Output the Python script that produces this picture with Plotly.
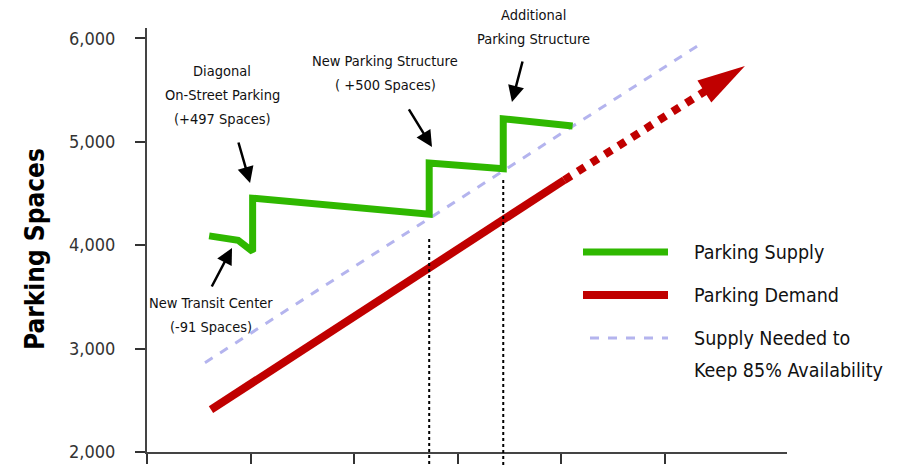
import math
import plotly.graph_objects as go

# ---------------- data ----------------
supply_x = [0.60, 0.88, 1.02, 1.02, 2.725, 2.725, 3.44, 3.44, 4.11]
supply_y = [4090, 4048, 3938, 4454, 4300, 4795, 4740, 5222, 5152]

demand_x = [0.618, 4.03]
demand_y = [2410, 4630]

projection_x = [4.03, 5.774]     # dotted projection, ending at arrow tip
projection_y = [4630, 5733]

needed_x = [0.56, 5.36]
needed_y = [2864, 5955]

marker_x = [2.725, 3.44]          # dotted reference lines under supply steps
marker_top = [4060, 4630]

y_ticks = [2000, 3000, 4000, 5000, 6000]
x_ticks = [0, 1, 2, 3, 4, 5]

event_lines = [
    ["Diagonal", "On-Street Parking", "(+497 Spaces)"],
    ["New Transit Center", "(-91 Spaces)"],
    ["New Parking Structure", "( +500 Spaces)"],
    ["Additional", "Parking Structure"],
]
event_tip = [(0.995, 4601), (0.821, 3973), (2.752, 4949), (3.524, 5385)]
event_tail = [(0.879, 5007), (0.618, 3586), (2.520, 5327), (3.630, 5791)]

legend_labels = ["Parking Supply", "Parking Demand", "Supply Needed to", "Keep 85% Availability"]

# ---------------- styles / placement ----------------
GREEN = "#2fb800"
RED = "#c00000"
LAV = "#b4b4ee"
FONT = "DejaVu Sans Condensed, Liberation Sans Narrow, sans-serif"

W, H = 900, 465
ML, MR, MT, MB = 147, 113, 28, 13
XR = [0, 6.18]
YR = [2000, 6100]
pxx = (W - ML - MR) / (XR[1] - XR[0])
pxy = (H - MT - MB) / (YR[1] - YR[0])

event_text_px = [(222, 95), (211, 314.5), (385, 72.5), (533, 27)]
EVENT_LINE_GAP = 24


def px2paper_x(p):
    return (p - ML) / (W - ML - MR)


def px2paper_y(p):
    return (H - MB - p) / (H - MT - MB)


fig = go.Figure()

fig.add_trace(go.Scatter(x=needed_x, y=needed_y, mode="lines",
                         line=dict(color=LAV, width=3, dash="dash"), hoverinfo="skip"))
fig.add_trace(go.Scatter(x=demand_x, y=demand_y, mode="lines",
                         line=dict(color=RED, width=8), hoverinfo="skip"))

# arrow head geometry for projection (computed in pixel space)
tx, ty = projection_x[-1], projection_y[-1]
sx, sy = projection_x[0], projection_y[0]
dxp = (tx - sx) * pxx
dyp = (ty - sy) * pxy
L = math.hypot(dxp, dyp)
ux, uy = dxp / L, dyp / L
head_len, head_half = 48, 13
bx, by = tx - ux * head_len / pxx, ty - uy * head_len / pxy
c1 = (bx - uy * head_half / pxx, by + ux * head_half / pxy)
c2 = (bx + uy * head_half / pxx, by - ux * head_half / pxy)

fig.add_trace(go.Scatter(x=[sx, bx + ux * 2 / pxx], y=[sy, by + uy * 2 / pxy], mode="lines",
                         line=dict(color=RED, width=8, dash="dot"), hoverinfo="skip"))
fig.add_trace(go.Scatter(x=[tx, c1[0], c2[0], tx], y=[ty, c1[1], c2[1], ty], mode="lines",
                         fill="toself", fillcolor=RED, line=dict(width=0, color=RED), hoverinfo="skip"))

fig.add_trace(go.Scatter(x=supply_x, y=supply_y, mode="lines",
                         line=dict(color=GREEN, width=7), hoverinfo="skip"))

shapes = []
for mx, mt in zip(marker_x, marker_top):
    shapes.append(dict(type="line", xref="x", yref="paper", x0=mx, x1=mx,
                       y0=(mt - YR[0]) / (YR[1] - YR[0]), y1=-0.04,
                       line=dict(color="black", width=2, dash="dot"), layer="above"))

# manual legend
legend_marks = [
    (GREEN, "solid", 7, 583, 252),
    (RED, "solid", 8, 583, 295),
    (LAV, "dash", 3, 590, 338),
]
annotations = []
for col, dash, wd, x0, yy in legend_marks:
    shapes.append(dict(type="line", xref="paper", yref="paper",
                       x0=px2paper_x(x0), x1=px2paper_x(668),
                       y0=px2paper_y(yy), y1=px2paper_y(yy),
                       line=dict(color=col, width=wd, dash=dash)))
for text, yy in zip(legend_labels, [252, 295, 338, 370]):
    annotations.append(dict(xref="paper", yref="paper", x=px2paper_x(692), y=px2paper_y(yy),
                            text=text, showarrow=False, xanchor="left", yanchor="middle",
                            font=dict(family=FONT, size=19.5, color="#111")))

for lines, tip, tail, (cx, cy) in zip(event_lines, event_tip, event_tail, event_text_px):
    annotations.append(dict(x=tip[0], y=tip[1], ax=tail[0], ay=tail[1],
                            axref="x", ayref="y", xref="x", yref="y", text="", showarrow=True,
                            arrowhead=2, arrowsize=1.3, arrowwidth=2.5, arrowcolor="black"))
    n = len(lines)
    for i, t in enumerate(lines):
        ly = cy + (i - (n - 1) / 2) * EVENT_LINE_GAP
        annotations.append(dict(x=px2paper_x(cx), y=px2paper_y(ly), xref="paper", yref="paper",
                                text=t, showarrow=False, xanchor="center", yanchor="middle",
                                font=dict(family=FONT, size=14.5, color="#111")))

annotations.append(dict(xref="paper", yref="paper", x=px2paper_x(35), y=px2paper_y(249),
                        text="<b>Parking Spaces</b>", textangle=-90, showarrow=False,
                        xanchor="center", yanchor="middle",
                        font=dict(family=FONT, size=26, color="black")))

fig.update_layout(
    width=W, height=H, autosize=False,
    margin=dict(l=ML, r=MR, t=MT, b=MB, pad=0, autoexpand=False),
    plot_bgcolor="white", paper_bgcolor="white",
    showlegend=False,
    shapes=shapes, annotations=annotations,
    xaxis=dict(range=XR, tickvals=x_ticks, showticklabels=False, ticks="outside",
               ticklen=10, tickwidth=2, tickcolor="#333", showline=True, linecolor="#444",
               linewidth=2, showgrid=False, zeroline=False, fixedrange=True, automargin=False),
    yaxis=dict(range=YR, tickvals=y_ticks, tickformat=",d", ticks="outside",
               ticklen=10, tickwidth=2, tickcolor="#333", showline=True, linecolor="#444",
               linewidth=2, showgrid=False, zeroline=False, ticklabelstandoff=16,
               tickfont=dict(family=FONT, size=18, color="#333"), fixedrange=True,
               automargin=False),
)

fig.write_html("out.html")
